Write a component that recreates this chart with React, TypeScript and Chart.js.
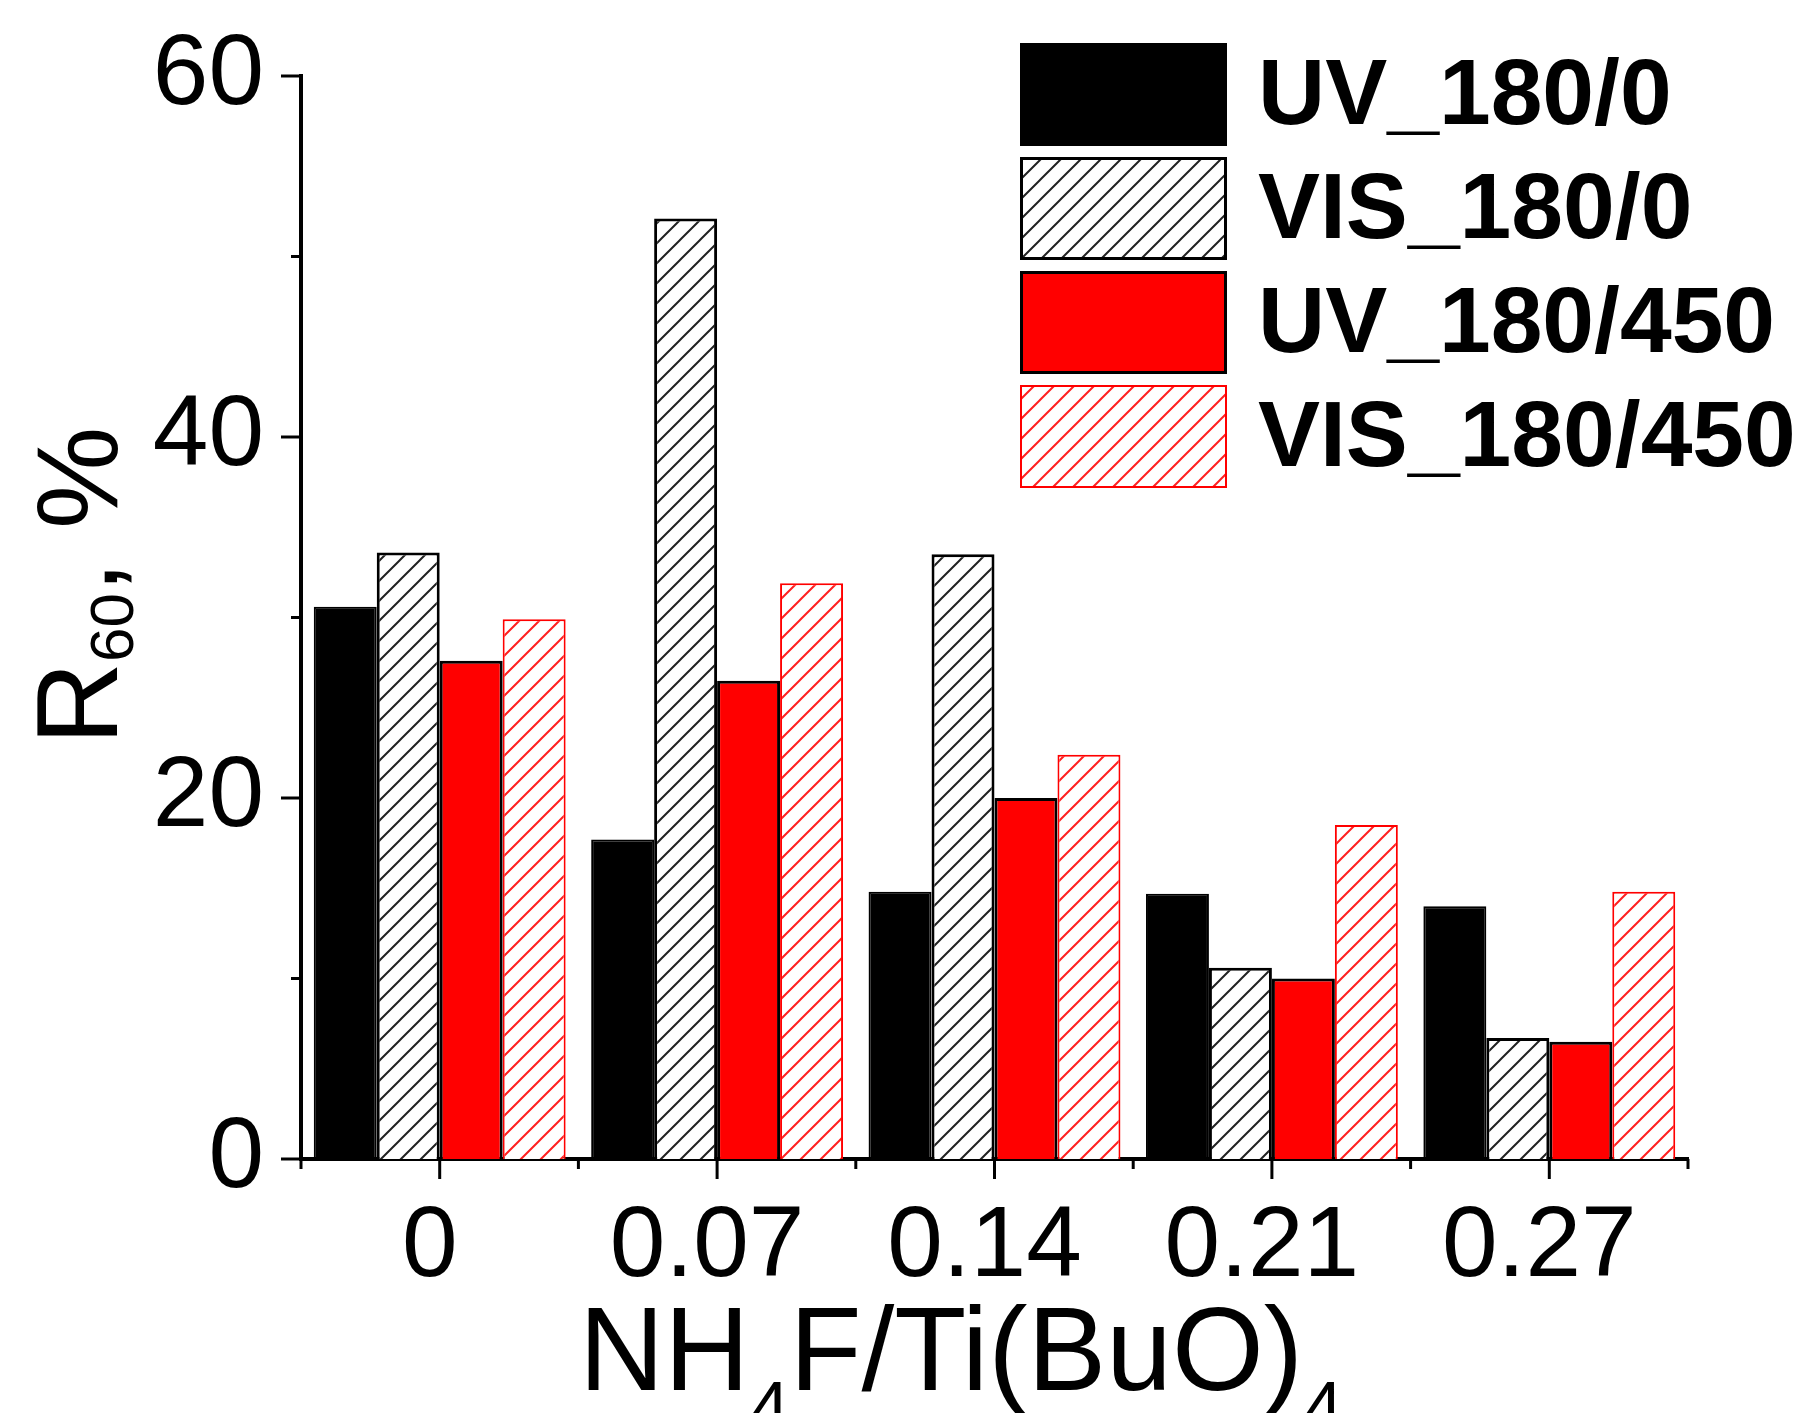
import React, { useEffect, useRef } from 'react';
import { Chart, registerables } from 'chart.js';

Chart.register(...registerables);

// ---- data ----
const categories = ['0', '0.07', '0.14', '0.21', '0.27'];
const seriesNames = ['UV_180/0', 'VIS_180/0', 'UV_180/450', 'VIS_180/450'];
const uv180_0 = [30.6, 17.7, 14.8, 14.7, 14.0];
const vis180_0 = [33.6, 52.1, 33.5, 10.6, 6.7];
const uv180_450 = [27.6, 26.5, 20.0, 10.0, 6.5];
const vis180_450 = [29.9, 31.9, 22.4, 18.5, 14.8];
const yMajorTicks = [0, 20, 40, 60];
const yTitleParts = [
  { text: 'R', sub: false },
  { text: '60', sub: true },
  { text: ', %', sub: false },
];
const xTitleParts = [
  { text: 'NH', sub: false },
  { text: '4', sub: true },
  { text: 'F/Ti(BuO)', sub: false },
  { text: '4', sub: true },
];

const FONT = '"Liberation Sans", Arial, sans-serif';

function makeHatch(color: string, lw: number) {
  const s = 20;
  const c = document.createElement('canvas');
  c.width = s;
  c.height = s;
  const g = c.getContext('2d')!;
  g.fillStyle = '#ffffff';
  g.fillRect(0, 0, s, s);
  g.strokeStyle = color;
  g.lineWidth = lw;
  g.beginPath();
  g.moveTo(-2, s + 2);
  g.lineTo(s + 2, -2);
  g.moveTo(-2, 2);
  g.lineTo(2, -2);
  g.moveTo(s - 2, s + 2);
  g.lineTo(s + 2, s - 2);
  g.stroke();
  return g.createPattern(c, 'repeat') as CanvasPattern;
}

function drawRichText(ctx: CanvasRenderingContext2D, parts: { text: string; sub: boolean }[], size: number, subSize: number, subShift: number) {
  let x = 0;
  for (const p of parts) {
    ctx.font = `${p.sub ? subSize : size}px ${FONT}`;
    ctx.fillText(p.text, x, p.sub ? subShift : 0);
    x += ctx.measureText(p.text).width;
  }
}

const axisDecor = {
  id: 'axisDecor',
  afterDraw(chart: any) {
    const ctx: CanvasRenderingContext2D = chart.ctx;
    const ca = chart.chartArea;
    const xs = chart.scales.x;
    const ys = chart.scales.y;
    ctx.save();
    ctx.strokeStyle = '#000';
    ctx.lineWidth = 3;
    ctx.lineCap = 'butt';
    // y ticks
    for (let v = 0; v <= 60; v += 10) {
      const y = ys.getPixelForValue(v);
      const len = yMajorTicks.includes(v) ? 20 : 10;
      ctx.beginPath();
      ctx.moveTo(ca.left - len, y);
      ctx.lineTo(ca.left, y);
      ctx.stroke();
    }
    // x ticks: major at centers, minor at boundaries
    const n = categories.length;
    const cw = (ca.right - ca.left) / n;
    for (let i = 0; i < n; i++) {
      const cx = xs.getPixelForValue(i);
      ctx.beginPath();
      ctx.moveTo(cx, ca.bottom);
      ctx.lineTo(cx, ca.bottom + 20);
      ctx.stroke();
      const bx = cx - cw / 2;
      ctx.beginPath();
      ctx.moveTo(bx, ca.bottom);
      ctx.lineTo(bx, ca.bottom + 10);
      ctx.stroke();
    }
    ctx.beginPath();
    ctx.moveTo(ca.right, ca.bottom);
    ctx.lineTo(ca.right, ca.bottom + 10);
    ctx.stroke();

    // axis titles
    ctx.fillStyle = '#000';
    ctx.textBaseline = 'alphabetic';
    ctx.textAlign = 'left';
    ctx.save();
    ctx.translate(117, 745);
    ctx.rotate(-Math.PI / 2);
    drawRichText(ctx, yTitleParts, 115, 62, 16);
    ctx.restore();
    ctx.save();
    ctx.translate(579, 1390);
    drawRichText(ctx, xTitleParts, 118, 72, 42);
    ctx.restore();

    // legend
    const lx = 1020;
    const ly = 43;
    chart.data.datasets.forEach((ds: any, i: number) => {
      const y = ly + i * 114;
      ctx.fillStyle = ds.backgroundColor;
      ctx.fillRect(lx, y, 207, 103);
      ctx.lineWidth = ds.borderWidth;
      ctx.strokeStyle = ds.borderColor;
      ctx.strokeRect(lx + ds.borderWidth / 2, y + ds.borderWidth / 2, 207 - ds.borderWidth, 103 - ds.borderWidth);
      ctx.fillStyle = '#000';
      ctx.font = `bold 93px ${FONT}`;
      ctx.textBaseline = 'middle';
      ctx.fillText(ds.label, 1258, y + 55);
    });
    ctx.restore();
  },
};

export default function App() {
  const ref = useRef<HTMLCanvasElement>(null);
  useEffect(() => {
    const blackHatch = makeHatch('#222222', 2);
    const redHatch = makeHatch('#ff2020', 2);
    const chart = new Chart(ref.current!, {
      type: 'bar',
      data: {
        labels: categories,
        datasets: [
          { label: seriesNames[0], data: uv180_0, backgroundColor: '#000000', borderColor: '#000000', borderWidth: 2 },
          { label: seriesNames[1], data: vis180_0, backgroundColor: blackHatch, borderColor: '#000000', borderWidth: 3 },
          { label: seriesNames[2], data: uv180_450, backgroundColor: '#ff0000', borderColor: '#000000', borderWidth: 3 },
          { label: seriesNames[3], data: vis180_450, backgroundColor: redHatch, borderColor: '#ff0000', borderWidth: 2 },
        ] as any,
      },
      options: {
        animation: false,
        responsive: false,
        devicePixelRatio: 1,
        layout: { padding: { left: 0, top: 76, right: 110, bottom: 0 } },
        datasets: { bar: { categoryPercentage: 0.908, barPercentage: 1.0 } },
        plugins: { legend: { display: false }, tooltip: { enabled: false }, title: { display: false } },
        scales: {
          x: {
            type: 'category',
            offset: true,
            grid: { display: false, drawTicks: false },
            border: { display: true, color: '#000', width: 4 },
            ticks: {
              color: '#000',
              font: { family: FONT, size: 100 },
              padding: 29,
              labelOffset: -10,
              autoSkip: false,
              maxRotation: 0,
              minRotation: 0,
            },
            afterFit: (s: any) => {
              s.height = 1413 - 1159;
              s.paddingLeft = 0;
              s.paddingRight = 0;
              s.paddingTop = 0;
              s.paddingBottom = 0;
            },
          },
          y: {
            min: 0,
            max: 60,
            grid: { display: false, drawTicks: false },
            border: { display: true, color: '#000', width: 4 },
            ticks: {
              stepSize: 10,
              autoSkip: false,
              color: '#000',
              font: { family: FONT, size: 100 },
              padding: 37,
              callback: (v: any) => (yMajorTicks.includes(Number(v)) ? String(v) : ''),
            },
            afterFit: (s: any) => {
              s.width = 301;
              s.paddingTop = 0;
              s.paddingBottom = 0;
              s.paddingLeft = 0;
              s.paddingRight = 0;
            },
          },
        },
      },
      plugins: [axisDecor],
    });
    return () => chart.destroy();
  }, []);
  return (
    <div style={{ position: 'fixed', left: 0, top: 0, width: 1798, height: 1413, background: '#fff' }}>
      <canvas ref={ref} width={1798} height={1413} style={{ width: 1798, height: 1413, display: 'block' }} />
    </div>
  );
}
